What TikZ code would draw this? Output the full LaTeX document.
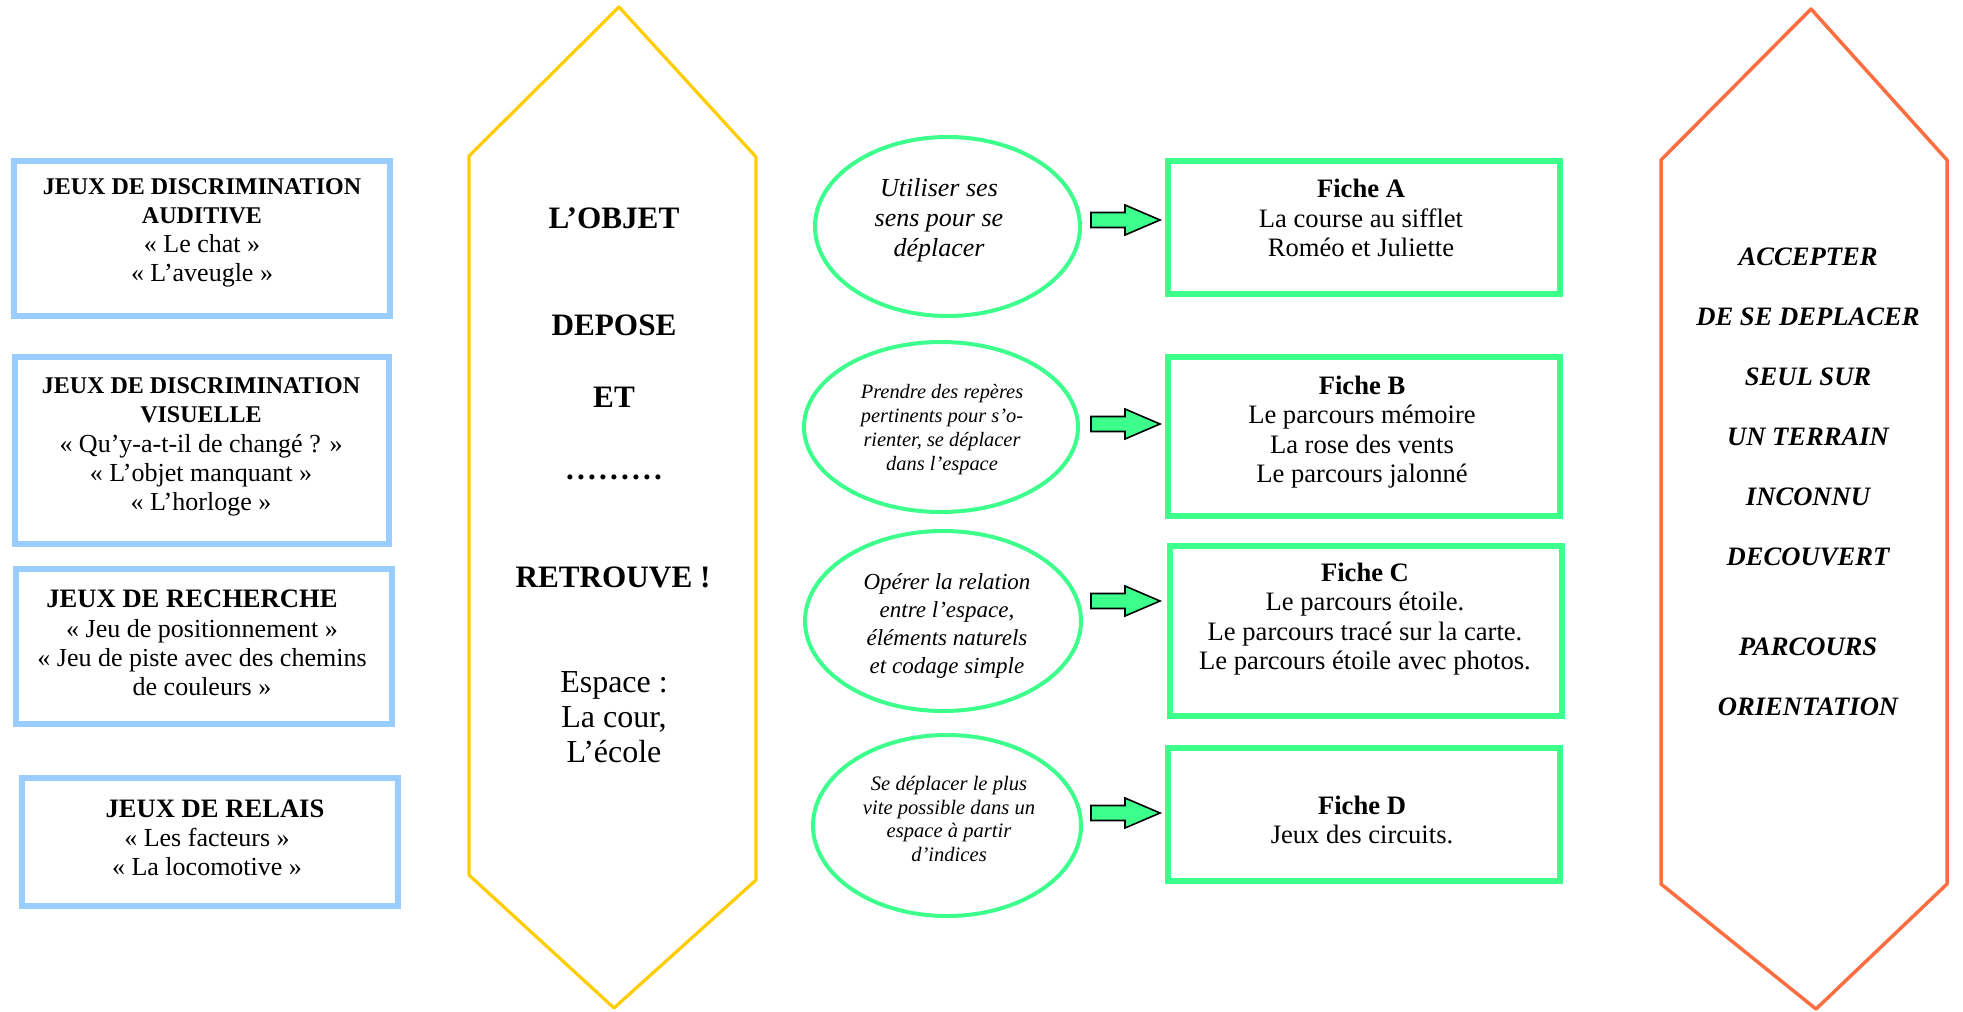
\documentclass[tikz,border=0pt]{standalone}
\usepackage{fontspec}
\setmainfont{Liberation Serif}
\usetikzlibrary{shapes.geometric,calc}
\definecolor{lblue}{RGB}{153,204,255}
\definecolor{ygold}{RGB}{255,204,0}
\definecolor{mint}{RGB}{60,255,140}
\definecolor{orng}{RGB}{255,110,64}
\newcommand\boxtitle[2]{{\fontsize{#1}{14.6}\selectfont\bfseries #2}}
\begin{document}
\begin{tikzpicture}[x=0.5pt,y=-0.5pt,
  bluebox/.style={draw=lblue,line width=2.85pt,rectangle,inner sep=0pt},
  greenbox/.style={draw=mint,line width=3pt,rectangle,inner sep=0pt},
  oval/.style={draw=mint,line width=2pt,ellipse,inner sep=0pt},
  txt/.style={align=center,inner sep=0pt},
  bodytxt/.style={txt,font=\fontsize{13}{14.6}\selectfont},
  fichetxt/.style={txt,font=\fontsize{13.3}{14.8}\selectfont},
  bigtxt/.style={txt,font=\fontsize{15.6}{18}\selectfont\bfseries},
  blockarr/.style={draw=black,fill=mint,line width=0.8pt,line join=miter},
  hexline/.style={line width=#1,line join=round}
]
\useasboundingbox (0,0) rectangle (1963,1011);

% ---- left blue boxes ----
\node[bluebox,minimum width=188pt,minimum height=77.5pt] (b1) at (202,238.5) {};
\node[bluebox,minimum width=187pt,minimum height=93.5pt] (b2) at (202,450.5) {};
\node[bluebox,minimum width=188pt,minimum height=77.5pt] (b3) at (204,646.5) {};
\node[bluebox,minimum width=188pt,minimum height=64pt] (b4) at (210,842) {};

\node[bodytxt] (b1t) at (202,233) {\boxtitle{12}{JEUX DE DISCRIMINATION}\\\boxtitle{12}{AUDITIVE}\\« Le chat »\\« L’aveugle »};
\node[bodytxt] (b2t) at (201,447) {\boxtitle{12}{JEUX DE DISCRIMINATION}\\\boxtitle{12}{VISUELLE}\\« Qu’y-a-t-il de changé ? »\\« L’objet manquant »\\« L’horloge »};
\node[bodytxt] (b3t) at (202,643) {\boxtitle{13.3}{JEUX DE RECHERCHE}\kern10pt\\« Jeu de positionnement »\\« Jeu de piste avec des chemins\\de couleurs »};
\node[bodytxt] (b4t) at (207,838) {\kern8pt\boxtitle{13.3}{JEUX DE RELAIS}\\« Les facteurs »\\« La locomotive »};

% ---- yellow hexagon ----
\draw[draw=ygold,hexline=1.6pt] (619,7) -- (756,157) -- (756,880) -- (614,1008) -- (469,875) -- (469,156) -- cycle;
\node[bigtxt] (y1) at (614,218) {L’OBJET};
\node[bigtxt] (y2) at (614,325) {DEPOSE};
\node[bigtxt] (y3) at (614,397) {ET};
\node[bigtxt] (y4) at (614,477) {.\kern1.6pt.\kern1.6pt.\kern1.6pt.\kern1.6pt.\kern1.6pt.\kern1.6pt.\kern1.6pt.\kern1.6pt.};
\node[bigtxt] (y5) at (613,577) {RETROUVE !};
\node[txt,font=\fontsize{16}{17.5}\selectfont] (y6) at (614,717) {Espace :\\La cour,\\L’école};

% ---- ellipses ----
\node[oval,minimum width=132.5pt,minimum height=89.5pt] (e1) at (947.5,226.5) {};
\node[oval,minimum width=137pt,minimum height=85pt] (e2) at (941,427) {};
\node[oval,minimum width=138pt,minimum height=90pt] (e3) at (943,621) {};
\node[oval,minimum width=134pt,minimum height=90.5pt] (e4) at (947,825.5) {};

\node[txt,font=\fontsize{13}{15}\selectfont\itshape] (e1t) at (939,220) {Utiliser ses\\sens pour se\\déplacer};
\node[txt,font=\fontsize{10.2}{12}\selectfont\itshape] (e2t) at (942,430) {Prendre des repères\\pertinents pour s’o-\\rienter, se déplacer\\dans l’espace};
\node[txt,font=\fontsize{11.5}{14}\selectfont\itshape] (e3t) at (947,626) {Opérer la relation\\entre l’espace,\\éléments naturels\\et codage simple};
\node[txt,font=\fontsize{10.3}{11.7}\selectfont\itshape] (e4t) at (949,819) {Se déplacer le plus\\vite possible dans un\\espace à partir\\d’indices};

% ---- green fiche boxes ----
\node[greenbox,minimum width=196pt,minimum height=66.5pt] (fA) at (1364,227.5) {};
\node[greenbox,minimum width=196pt,minimum height=79.5pt] (fB) at (1364,436.5) {};
\node[greenbox,minimum width=196pt,minimum height=85pt] (fC) at (1366,631) {};
\node[greenbox,minimum width=196pt,minimum height=66.5pt] (fD) at (1364,814.5) {};

\node[fichetxt] (fAt) at (1361,218) {\textbf{Fiche A}\\La course au sifflet\\Roméo et Juliette};
\node[fichetxt] (fBt) at (1362,432) {\textbf{Fiche B}\\Le parcours mémoire\\La rose des vents\\Le parcours jalonné};
\node[fichetxt] (fCt) at (1365,619) {\textbf{Fiche C}\\Le parcours étoile.\\Le parcours tracé sur la carte.\\Le parcours étoile avec photos.};
\node[fichetxt] (fDt) at (1362,820) {\textbf{Fiche D}\\Jeux des circuits.};

% ---- block arrows ----
\coordinate (tipA) at (1160,220);
\coordinate (tipB) at (1160,424);
\coordinate (tipC) at (1160,601);
\coordinate (tipD) at (1160,813);
\foreach \t in {tipA,tipB,tipC,tipD}{
  \draw[blockarr] (\t) -- ++(-35,-15) -- ++(0,7.5) -- ++(-34,0) -- ++(0,15) -- ++(34,0) -- ++(0,7.5) -- cycle;
}

% ---- orange hexagon ----
\draw[draw=orng,hexline=1.75pt] (1811,9) -- (1947,160) -- (1947,884) -- (1816,1009) -- (1661,884) -- (1661,160) -- cycle;
\node[txt,font=\fontsize{13.3}{30}\selectfont\bfseries\itshape] (ot) at (1808,482) {ACCEPTER\\DE SE DEPLACER\\SEUL SUR\\UN TERRAIN\\INCONNU\\DECOUVERT\\[15pt]PARCOURS\\ORIENTATION};
\end{tikzpicture}
\end{document}
